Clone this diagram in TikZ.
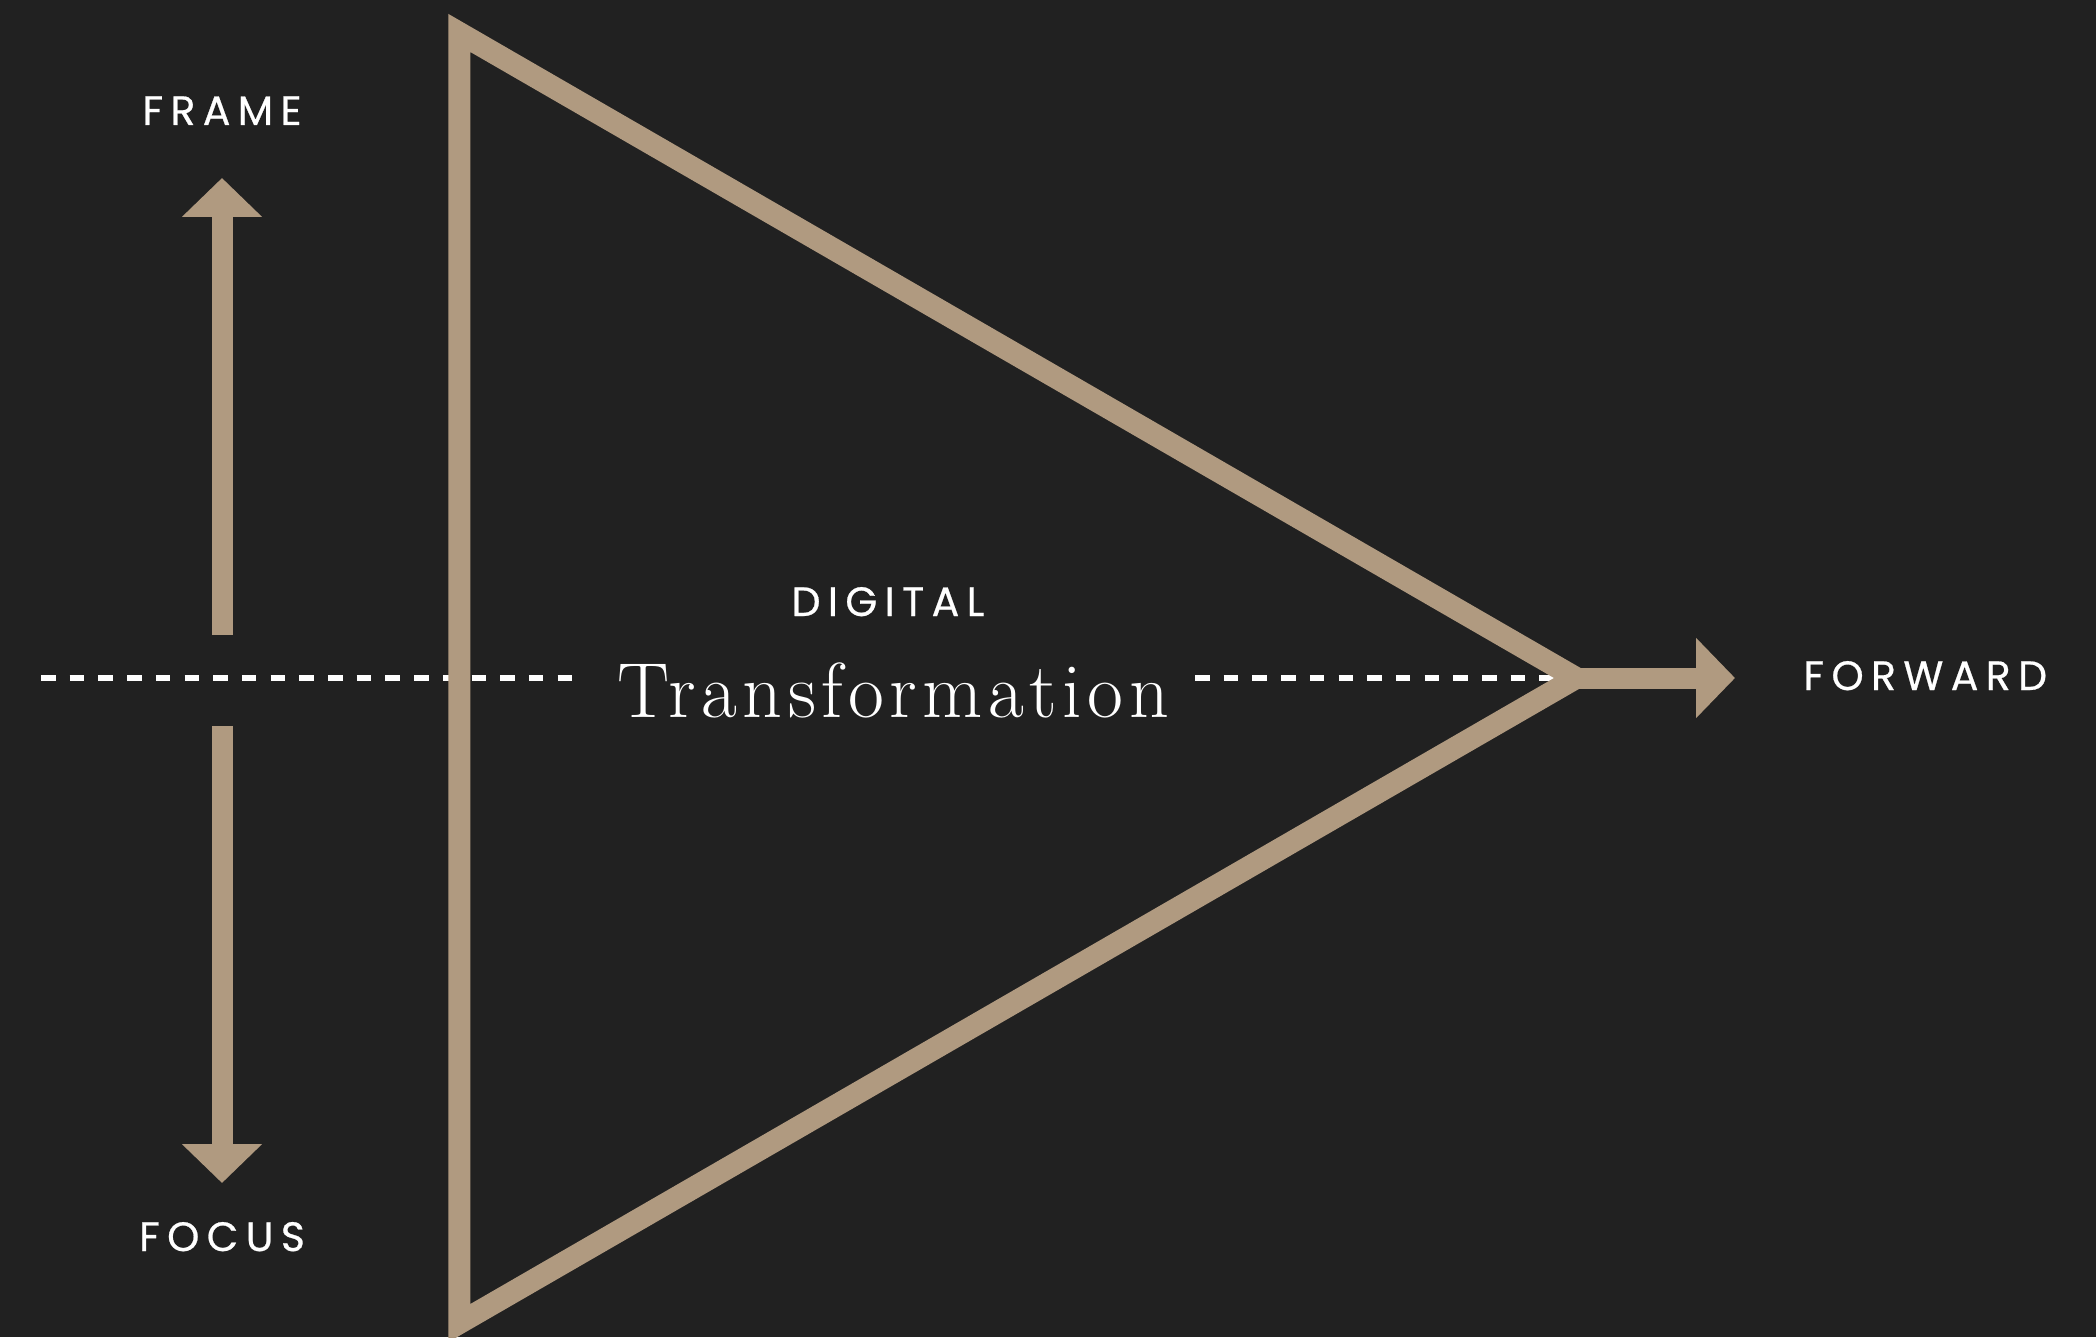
\documentclass[tikz,border=0pt]{standalone}
\usepackage{fontspec}
\usepackage{xcolor}
\usepackage{tikz}
\usetikzlibrary{arrows.meta,positioning}
\newfontfamily\labelfont[LetterSpace=18,FakeBold=0.6]{Poppins}
\newfontfamily\titlefont[LetterSpace=7]{Latin Modern Roman}
\definecolor{bgdark}{HTML}{212121}
\definecolor{tanline}{HTML}{B09A80}

\begin{document}
\begin{tikzpicture}[x=0.5pt,y=-0.5pt,
  lbl/.style={text=white,font=\labelfont\fontsize{20.5}{24}\selectfont,anchor=base,inner sep=0pt},
  bigarrow/.style={draw=tanline,line width=10.5pt,-{Triangle[length=19.5pt,width=39pt]}},
  axis/.style={draw=white,line width=3pt,dash pattern=on 7.25pt off 7.1pt}]
\fill[bgdark] (0,0) rectangle (2096,1337);
\useasboundingbox (0,0) rectangle (2096,1337);
\coordinate (tritop) at (459.4,33);
\coordinate (apex) at (1576,678);
\coordinate (tribot) at (459.4,1323);
\coordinate (axisL) at (41,678);
\coordinate (axisLend) at (572,678);
\coordinate (axisR) at (1195,678);
\coordinate (fwdtip) at (1735,678);
\coordinate (upfrom) at (222,635);
\coordinate (uptip) at (222,178);
\coordinate (downfrom) at (222,726);
\coordinate (downtip) at (222,1183);
\draw[axis] (axisL) -- (axisLend);
\draw[axis] (axisR) -- (apex);
\draw[tanline,line width=11pt,line join=miter] (tritop) -- (apex) -- (tribot) -- cycle;
\draw[bigarrow] (apex) -- (fwdtip);
\draw[bigarrow] (upfrom) -- (uptip);
\draw[bigarrow] (downfrom) -- (downtip);
\node[lbl] (frame) at (222,125) {FRAME};
\node[lbl] (focus) at (222,1251) {FOCUS};
\node[lbl,anchor=base west] (forward) at (1803,690) {FORWARD};
\node[lbl] (digital) at (888,616) {DIGITAL};
\node[text=white,font=\titlefont\fontsize{39}{44}\selectfont,anchor=base,inner sep=0pt] (transf) at (893,717) {Transformation};
\end{tikzpicture}
\end{document}
